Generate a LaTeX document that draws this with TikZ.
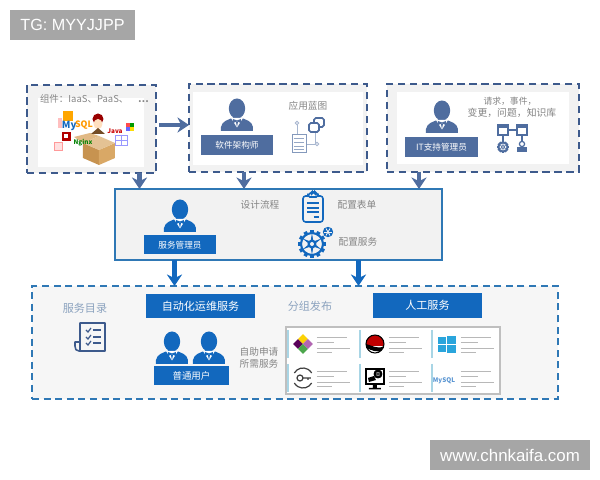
\documentclass[tikz,border=0pt]{standalone}
\usepackage{fontspec}
\setmainfont{Noto Sans CJK SC}
\newfontfamily\badgefont{Liberation Sans}
\usetikzlibrary{arrows.meta,calc,fit}
\definecolor{slateblue}{HTML}{4F6D9F}
\definecolor{framedark}{HTML}{3D5A8C}
\definecolor{svcblue}{HTML}{1268BE}
\definecolor{framelight}{HTML}{2F78B5}
\definecolor{softgray}{HTML}{F2F2F2}
\definecolor{labelgray}{HTML}{858585}
\definecolor{headblue}{HTML}{8CA3BF}
\definecolor{boxtan}{HTML}{D9A866}
\definecolor{boxdark}{HTML}{C79350}
\definecolor{stripe}{HTML}{A8D5E5}
\definecolor{winblue}{HTML}{2AA5DC}
\def\pw{0.02cm}
\tikzset{
  every node/.style={inner sep=0pt,outer sep=0pt},
  darkframe/.style={draw=framedark,line width=1.3pt,dash pattern=on 4.2pt off 2.6pt,fill=softgray,inner sep=0pt},
  lightframe/.style={draw=framelight,line width=.9pt,dash pattern=on 4pt off 2.6pt,fill=softgray!70,inner sep=0pt},
  badge/.style={fill=black!35,text=white,font=\badgefont\fontsize{#1}{12}\selectfont},
  bar/.style={fill=#1,text=white,font=\fontsize{4.9}{6}\selectfont,text=white},
  bigbar/.style={fill=svcblue,text=white,font=\fontsize{6.3}{7}\selectfont,minimum width=109*\pw,minimum height=24.5*\pw},
  note/.style={text=labelgray,font=\fontsize{5.5}{6.6}\selectfont,align=center},
  headline/.style={text=headblue,font=\fontsize{6.3}{7.5}\selectfont},
  fatarrow/.style={draw=#1,line width=2.6pt,-{Stealth[width=8.5pt,length=6.5pt,inset=2pt]}},
  person/.pic={
    \fill[pic actions](0,-22.5)ellipse[x radius=8.2,y radius=10];
    \fill[pic actions](-3.5,-17)rectangle(3.5,-10);
    \fill[pic actions](-16,0)--(-16,-4)..controls(-15,-10)and(-9,-11)..(-5,-13)--(5,-13)
      ..controls(9,-11)and(15,-10)..(16,-4)--(16,0)--cycle;
    \fill[white](-6,-13)--(0,-3.5)--(6,-13)--cycle;
    \fill[pic actions](-4,-12)--(0,-10.5)--(4,-12)--(4,-8)--(0,-9.5)--(-4,-8)--cycle;
    \fill[pic actions](-1,-9)--(1,-9)--(0,-4)--cycle;
  },
  pics/cogwheel/.style={code={
    \foreach \a in {0,30,...,330}{\fill[#1,rotate=\a](-1.8,-14)rectangle(1.8,-10);}
    \draw[#1,line width=1.2pt](0,0)circle(11);
    \foreach \a in {0,60,...,300}{\fill[#1,rotate=\a](-1.5,-2)--(0,-11)--(1.5,-2)--cycle;}
    \fill[#1](0,0)circle(4.5);
    \fill[softgray](0,0)circle(2);
  }},
}
\begin{document}
\begin{tikzpicture}[x=\pw,y=-\pw]
\useasboundingbox[fill=white](0,0)rectangle(600,480);
\node[badge=9.2,minimum width=125*\pw,minimum height=30*\pw](tg)at(72.5,25){TG: MYYJJPP};
\node[badge=9.6,minimum width=160*\pw,minimum height=30*\pw](site)at(510,455){www.chnkaifa.com};
\node[darkframe,fit={(27,85)(156,173)}](parts){};
\node[darkframe,fit={(189,84)(367,172)}](arch){};
\node[darkframe,fit={(387,84)(579,172)}](itsup){};
\fill[white](38,98)rectangle(144,167);
\fill[white](193,92)rectangle(363,165);
\fill[white](397,92)rectangle(569,164);
\node[draw=framelight,line width=.9pt,fill=softgray,fit={(115,189)(442,260)}](svc){};
\node[lightframe,fit={(32,286)(558,399)}](lower){};
\foreach \dx/\boxname in {48/parts,-34/arch,-64/itsup}{
  \draw[fatarrow=slateblue]([xshift=\dx*\pw]\boxname.south)--([xshift=\dx*\pw]\boxname.south |- svc.north);}
\draw[fatarrow=slateblue]([xshift=3*\pw,yshift=4*\pw]parts.east)--([yshift=4*\pw]parts.east -| arch.west);
\foreach \dx in {-104,80}{
  \draw[fatarrow=svcblue]([xshift=\dx*\pw]svc.south)--([xshift=\dx*\pw]svc.south |- lower.north);}

% top left group
\node[text=labelgray,font=\fontsize{5.4}{6}\selectfont,anchor=west](comp)at(40,99){组件：IaaS、PaaS、\hspace{5.5pt}\textbf{\ldots}};
\fill[boxdark](83,143)--(99,150)--(99,165)--(83,158)--cycle;
\fill[boxtan](115,143)--(99,150)--(99,165)--(115,158)--cycle;
\fill[boxtan!70](83,143)--(99,136)--(115,143)--(99,150)--cycle;
\fill[boxtan!80](74,137)--(90,133)--(99,136)--(83,143)--cycle;
\fill[orange!70!yellow](63,111)rectangle(73,121);
\fill[red!25](58,118)rectangle(62,128);
\fill[red!70!black](62,132)rectangle(71,141);
\fill[white](64.5,134.5)rectangle(68.5,138.5);
\draw[red!40,line width=.4pt,fill=red!12](54,142)rectangle(62,150);
\node[text=svcblue,font=\bfseries\fontsize{5.6}{7}\selectfont,anchor=base west](mysql)at(62,129){My};
\node[text=orange!80!yellow,font=\bfseries\fontsize{5}{7}\selectfont,anchor=base west](sql)at(75,128){SQL};
\node[text=green!50!black,font=\bfseries\fontsize{3.6}{4}\selectfont](nginx)at(83,143){Nginx};
\fill[red!60!black](98,119)circle(5.5);\fill[orange!25](98,124)ellipse[x radius=4.5,y radius=5];
\fill[brown!60!black](91,134)--(98,128)--(105,134)--cycle;
\node[text=red!80!black,font=\bfseries\fontsize{3.6}{4}\selectfont](java)at(115,131){Java};
\draw[blue!40,line width=.5pt](115,135)rectangle(127,145)(121,135)--(121,145)(115,140)--(127,140);
\fill[red!70](126,123)rectangle(130,127);\fill[green!60!black](130,123)rectangle(134,127);
\fill[blue!60](126,127)rectangle(130,131);\fill[yellow!80!orange](130,127)rectangle(134,131);

% architect
\pic[fill=slateblue]at(237,131){person};
\node[bar=slateblue,minimum width=72*\pw,minimum height=20*\pw](archbar)at(237,145){软件架构师};
\node[note](blueprint)at(308,106){应用蓝图};
\draw[slateblue!50,line width=.5pt](297,125)--(297,134)(306,144)--(315,144)--(315,133);
\draw[slateblue!70,line width=.5pt,fill=white](292,134)rectangle(306,152);
\foreach \yy in {138,142,146,149}{\draw[slateblue!60,line width=.5pt](294,\yy)--(304,\yy);}
\draw[slateblue!50,line width=.5pt,fill=white](297,123)circle(1.8)(317,144)circle(1.8);
\draw[slateblue,line width=1pt,rounded corners=1pt,fill=white](314,118)rectangle(324,127);
\draw[slateblue,line width=1pt,rounded corners=1pt,fill=white](309,123)rectangle(319,132);

% it support
\pic[fill=slateblue]at(442,133){person};
\node[bar=slateblue,minimum width=73*\pw,minimum height=20*\pw](itbar)at(441.5,147){IT支持管理员};
\node[note,font=\fontsize{5}{6}\selectfont](reqa)at(510,101){请求，事件，};
\node[note,font=\fontsize{5.6}{6.6}\selectfont](reqb)at(512,113){变更，问题，知识库};
\draw[slateblue,line width=.7pt,fill=white](498,125)rectangle(508,135)(517,125)rectangle(527,135);
\draw[slateblue,line width=.7pt](508,130)--(517,130)(503,135)--(503,141)(522,135)--(522,141);
\fill[slateblue](498,125)rectangle(508,128)(517,125)rectangle(527,128);
\pic[scale=.42]at(503,147){cogwheel=slateblue};
\fill[slateblue](517,147)rectangle(527,152);
\draw[slateblue,line width=.7pt,fill=white](522,144)circle(2.6);

% service manager
\pic[fill=svcblue]at(180,232){person};
\node[bar=svcblue,minimum width=72*\pw,minimum height=19*\pw](svcbar)at(180,245){服务管理员};
\node[note](flow)at(260,205){设计流程};
\node[note](formlb)at(357,205){配置表单};
\node[note](conflb)at(358,242){配置服务};
\draw[svcblue,line width=.9pt,rounded corners=1.5pt,fill=softgray](303,196)rectangle(323,222);
\draw[svcblue,line width=.9pt,fill=softgray,rounded corners=1pt](308,197)--(308,193.5)--(312,193.5)--(312,192)--(315,192)--(315,193.5)--(318,193.5)--(318,197)--cycle;
\foreach \yy in {203,208,212}{\draw[svcblue,line width=.8pt](307,\yy)--(319,\yy);}
\draw[svcblue,line width=.8pt](314,217)--(319,217);
\pic at(312,244){cogwheel=svcblue};
\fill[svcblue](328,232)circle(5.2);
\foreach \a in {0,60,120}{\draw[softgray,line width=.5pt,rotate around={\a:(328,232)}](324,232)--(332,232);}

% lower group
\node[headline](catalog)at(85,308){服务目录};
\node[headline](publish)at(310,306){分组发布};
\node[bigbar](autobar)at(200.5,306){自动化运维服务};
\node[bigbar](manbar)at(427.5,305.5){人工服务};
\draw[framedark,line width=.9pt,line join=round](80,343)--(80,323)--(105,323)--(105,351)--(79,351)
  ..controls(76,351)and(75,349)..(75,346)--(75,342)--(80,342)(80,351)..controls(80,349)and(80,347)..(80,343);
\foreach \yy in {330,337,343}{
  \draw[framedark,line width=.7pt](86,\yy)--(88,\yy+2)--(91,\yy-2);
  \draw[framedark,line width=.7pt](93,\yy)--(101,\yy);}
\pic[fill=svcblue]at(172,364){person};
\pic[fill=svcblue]at(209,364){person};
\node[bar=svcblue,font=\fontsize{5.4}{6}\selectfont,minimum width=75*\pw,minimum height=19*\pw](userbar)at(191.5,375.5){普通用户};
\node[note](apply)at(259,358){自助申请\\所需服务};

% service cards
\node[draw=black!25,line width=.9pt,fill=white,fit={(286,327)(500,394)}](cards){};
\foreach \xx in {288,360,432}{
  \foreach \yy in {330,364}{
    \draw[stripe,line width=.9pt](\xx,\yy)--(\xx,\yy+28);
    \draw[black!28,line width=.4pt](\xx+29,\yy+7)--(\xx+59,\yy+7)(\xx+29,\yy+12)--(\xx+46,\yy+12)(\xx+29,\yy+18)--(\xx+62,\yy+18)(\xx+29,\yy+22)--(\xx+44,\yy+22);}}
\begin{scope}[rotate around={45:(303,344)}]
\fill[violet!70!black](296,337)rectangle(303,344);\fill[yellow!70!orange](303,337)rectangle(310,344);
\fill[green!50!black!70](296,344)rectangle(303,351);\fill[violet!60](303,344)rectangle(310,351);
\end{scope}
\begin{scope}
\clip(375,344)circle(9);
\fill[red!75!black](366,335)rectangle(384,346);
\fill[black](366,344)..controls(371,345)and(378,350)..(384,346)--(384,350)..controls(378,354)and(370,350)..(366,348)--cycle;
\fill[white](366,348)..controls(370,350)and(378,354)..(384,350)--(384,353)--(366,353)--cycle;
\end{scope}
\draw[black,line width=.6pt](375,344)circle(9);
\foreach \xa/\ya/\xb/\yb in {438/337/446/344.5,447/336/456/344.5,438/345.5/446/352,447/345.5/456/353}{
  \fill[winblue](\xa,\ya)rectangle(\xb,\yb);}
\draw[black!75,line width=.7pt](303,378)++(30:10)arc(30:150:10)(303,378)++(210:10)arc(210:330:10);
\draw[black!75,line width=.7pt](300,378)circle(3)(303,378)--(311,378)(308,378)--(308,380);
\draw[black,line width=1pt](366,369)rectangle(384,384);
\fill[black](373,384)rectangle(377,388)(369,388)rectangle(381,389.5);
\pic[scale=.3]at(378,374){cogwheel=black};
\fill[black](368,378)--(374,376)--(376,380)--(369,382)--cycle;
\node[text=svcblue!70,font=\bfseries\fontsize{3.6}{4}\selectfont](mysqlcard)at(444,381){MySQL};
\end{tikzpicture}
\end{document}
